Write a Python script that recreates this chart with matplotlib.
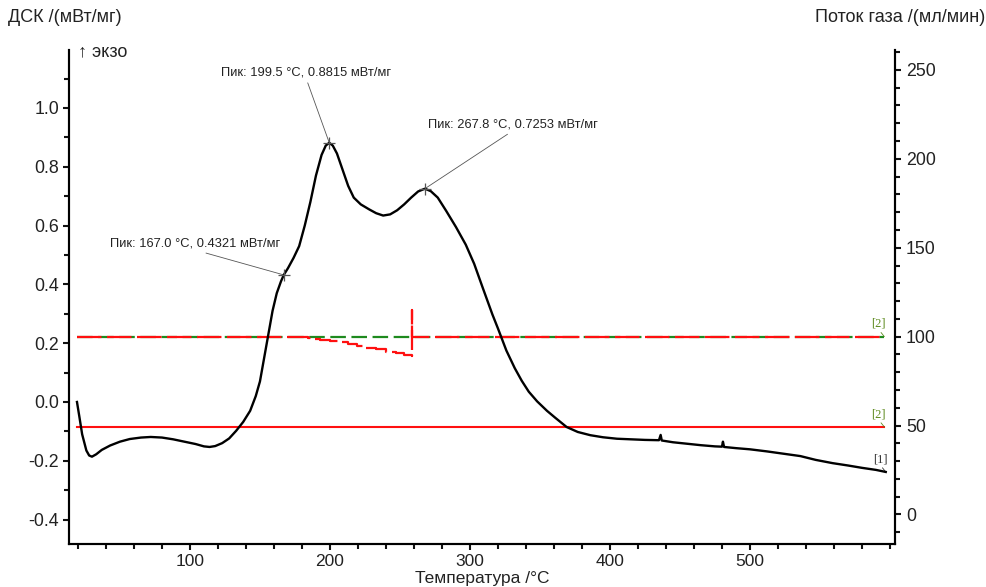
import matplotlib
matplotlib.use("Agg")
import matplotlib.pyplot as plt
from matplotlib.ticker import MultipleLocator

plt.rcParams['font.family'] = ['Liberation Sans', 'DejaVu Sans']

# ---- DSC curve ----
temp = [19.3, 21, 23, 26, 28, 30, 33, 37, 43, 50, 57, 65, 72, 80, 88, 96, 104, 110, 114,
        118, 123, 128, 133, 138, 143, 147, 150, 153, 156, 159, 162, 165, 167, 170, 174,
        178, 182, 186, 190, 194, 197, 199.5, 202, 205, 209, 213, 217, 222, 228, 233, 238,
        243, 248, 253, 258, 263, 267.8, 272, 277, 283, 290, 297, 303, 309, 316, 320, 326,
        332, 337, 342, 348, 355, 361, 369, 377, 386, 395, 405, 415, 425, 435, 436.2, 437,
        445, 455, 465, 475, 480, 480.7, 481.5, 490, 500, 512, 524, 536, 547, 559, 570,
        580, 590, 597]
dsc = [0.0, -0.05, -0.11, -0.165, -0.182, -0.186, -0.178, -0.163, -0.148, -0.135, -0.126,
       -0.121, -0.119, -0.121, -0.127, -0.135, -0.143, -0.151, -0.153, -0.150, -0.140,
       -0.124, -0.098, -0.068, -0.030, 0.02, 0.07, 0.15, 0.23, 0.31, 0.37, 0.41, 0.432,
       0.455, 0.49, 0.53, 0.60, 0.68, 0.77, 0.84, 0.872, 0.8815, 0.872, 0.845, 0.79,
       0.735, 0.695, 0.672, 0.655, 0.642, 0.634, 0.638, 0.652, 0.672, 0.695, 0.716,
       0.7253, 0.717, 0.695, 0.65, 0.595, 0.535, 0.47, 0.39, 0.298, 0.25, 0.175, 0.115,
       0.072, 0.035, 0.002, -0.03, -0.054, -0.085, -0.102, -0.113, -0.120, -0.125,
       -0.127, -0.129, -0.130, -0.112, -0.131, -0.137, -0.142, -0.147, -0.151, -0.152,
       -0.135, -0.153, -0.157, -0.161, -0.168, -0.176, -0.184, -0.197, -0.208, -0.216,
       -0.224, -0.231, -0.238]

# ---- Gas flow (right axis) ----
flow_T = [19, 596]
flow_set_dashed = [100, 100]      # green dashed (set point)
flow_solid = [49.2, 49.2]         # red solid
flow_meas_T = [19, 184, 188, 193, 200, 207, 213, 219, 225, 233, 240, 247, 253, 258.3,
               258.5, 258.7, 596]
flow_meas = [100, 99.2, 98.8, 98.3, 97.6, 96.8, 95.8, 94.8, 93.6, 92.8, 91.5, 90.6,
             89.8, 89.3, 115, 100, 100]

# ---- Peaks ----
peak_T = [167.0, 199.5, 267.8]
peak_v = [0.4321, 0.8815, 0.7253]
peak_labels = ["Пик: 167.0 °C, 0.4321 мВт/мг",
               "Пик: 199.5 °C, 0.8815 мВт/мг",
               "Пик: 267.8 °C, 0.7253 мВт/мг"]
peak_offsets_px = [(-89, 31), (-23, 70), (88, 64)]

W, H = 986, 587
fig = plt.figure(figsize=(W / 100, H / 100), dpi=100)
L, R, B, T = 69, 895, 544, 50
ax = fig.add_axes([L / W, 1 - B / H, (R - L) / W, (B - T) / H])
ax2 = ax.twinx()

ax.set_xlim(13.6, 603.6)
ax.set_ylim(-0.483, 1.197)
ax2.set_ylim(-16.6, 261.2)

# right-axis lines
ax2.plot(flow_T, flow_solid, color='#ff1010', lw=1.5, zorder=2)
ax2.plot(flow_T, flow_set_dashed, color='#1e8a1e', lw=1.6, dashes=(7, 2.5), zorder=2)
ax2.plot(flow_meas_T, flow_meas, color='#ff1010', lw=1.6, dashes=(11, 2.5),
         drawstyle='steps-post', zorder=3)

# DSC curve on the left axis (draw on top)
ax.set_zorder(ax2.get_zorder() + 1)
ax.patch.set_visible(False)
ax.plot(temp, dsc, color='black', lw=1.7, zorder=4)

# peaks
ax.plot(peak_T, peak_v, linestyle='none', marker='+', ms=9, mew=0.9,
        color='#555555', zorder=5)
pt = 72 / 100
for x, y, lab, (dx, dy) in zip(peak_T, peak_v, peak_labels, peak_offsets_px):
    ax.annotate(lab, xy=(x, y), xytext=(dx * pt, dy * pt), textcoords='offset points',
                ha='center', va='center', fontsize=9.3, color='#222222',
                arrowprops=dict(arrowstyle='-', color='#555555', lw=0.6,
                                relpos=(0.5, 0.0), shrinkA=1, shrinkB=0))

# curve end tags
tag_kw = dict(textcoords='offset points', ha='center', va='bottom', fontsize=9,
              family=['Liberation Serif', 'DejaVu Serif'],
              arrowprops=dict(arrowstyle='-', lw=0.6, shrinkA=0, shrinkB=0,
                              relpos=(0.5, 0.0)))
a = ax2.annotate('[2]', xy=(flow_T[-1], flow_set_dashed[-1]), xytext=(-4, 5),
                 color='#5d8a1e', **tag_kw)
a.arrow_patch.set_color('#5d8a1e')
a = ax2.annotate('[2]', xy=(flow_T[-1], flow_solid[-1]), xytext=(-4, 5),
                 color='#5d8a1e', **tag_kw)
a.arrow_patch.set_color('#5d8a1e')
a = ax.annotate('[1]', xy=(temp[-1], dsc[-1]), xytext=(-4, 5),
                color='#333333', **tag_kw)
a.arrow_patch.set_color('#333333')

# ticks / spines
for a_ in (ax, ax2):
    a_.spines['top'].set_visible(False)
    for s in a_.spines.values():
        s.set_linewidth(1.5)
ax.xaxis.set_major_locator(MultipleLocator(100))
ax.xaxis.set_minor_locator(MultipleLocator(20))
ax.yaxis.set_major_locator(MultipleLocator(0.2))
ax.yaxis.set_minor_locator(MultipleLocator(0.1))
ax2.yaxis.set_major_locator(MultipleLocator(50))
ax2.yaxis.set_minor_locator(MultipleLocator(10))
ax.set_yticks([-0.4, -0.2, 0.0, 0.2, 0.4, 0.6, 0.8, 1.0])
ax.set_yticklabels(['-0.4', '-0.2', '0.0', '0.2', '0.4', '0.6', '0.8', '1.0'])
ax.set_xticks([100, 200, 300, 400, 500])
ax2.set_yticks([0, 50, 100, 150, 200, 250])
for a_ in (ax, ax2):
    a_.tick_params(which='both', direction='out', width=1.5, colors='#111111',
                   labelsize=12.8, labelcolor='#222222')
    a_.tick_params(which='major', length=4)
    a_.tick_params(which='minor', length=3.5)
ax.tick_params(axis='y', pad=3)
ax2.tick_params(axis='y', pad=4)
ax.tick_params(axis='x', pad=3.5, labelsize=12.5)

ax.set_xlabel('Температура /°C', fontsize=12.5, color='#222222')
ax.xaxis.set_label_coords(0.5, -(579 - B) / (B - T))
ax.xaxis.label.set_va('center')

fig.text(8 / W, 1 - 18 / H, 'ДСК /(мВт/мг)', fontsize=13, color='#222222',
         ha='left', va='center')
fig.text(985 / W, 1 - 18 / H, 'Поток газа /(мл/мин)', fontsize=13, color='#222222',
         ha='right', va='center')
fig.text(78 / W, 1 - 52 / H, '↑ экзо', fontsize=13, color='#222222',
         ha='left', va='center')

fig.savefig('out.png', dpi=100)
